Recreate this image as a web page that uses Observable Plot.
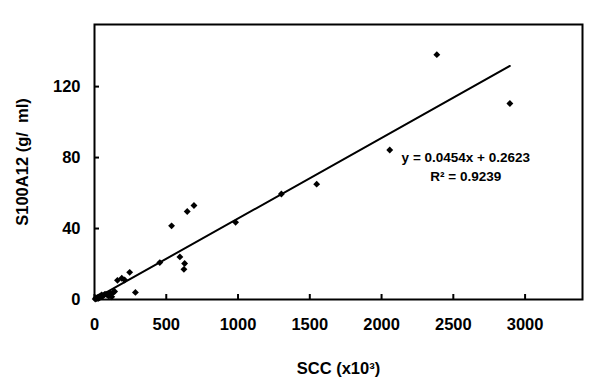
<!DOCTYPE html>
<html>
<head>
<meta charset="utf-8">
<script src="https://cdn.jsdelivr.net/npm/d3@7"></script>
<script src="https://cdn.jsdelivr.net/npm/@observablehq/plot@0.6"></script>
<style>
  html, body { margin: 0; padding: 0; background: #fff; }
  svg { display: block; }
</style>
</head>
<body>
<div id="chart"></div>
<script>
// SCC (x10^3) values
const scc = [5, 10, 15, 20, 25, 30, 35, 40, 45, 50, 55, 60, 70, 80, 90, 100, 110, 120, 130, 140,
             160, 190, 210, 245, 285, 455, 537, 595, 623, 628, 646, 693, 983, 1302, 1548, 2057, 2385, 2894];
// S100A12 values
const s100 = [0.3, 0.8, 0.5, 1.2, 0.6, 1.5, 1.0, 2.0, 1.5, 2.5, 1.8, 2.2, 2.8, 3.0, 2.5, 2.0, 3.5, 1.5, 4.0, 4.5,
              10.8, 12.0, 11.0, 15.3, 4.0, 20.8, 41.5, 24.0, 17.0, 20.3, 49.6, 53.0, 43.5, 59.5, 65.0, 84.3, 138.0, 110.5];
// trendline coefficients
const slope = 0.0454;
const intercept = 0.2623;
const r2 = 0.9239;
// ticks
const xTicks = [0, 500, 1000, 1500, 2000, 2500, 3000];
const yTicks = [0, 40, 80, 120];

const points = scc.map((x, i) => ({x, y: s100[i]}));
const xMin = d3.min(scc), xMax = d3.max(scc);
const trend = [xMin, xMax].map(x => ({x, y: slope * x + intercept}));

const xDomain = [0, 3400], yDomain = [0, 155];
const mL = 94, mR = 18, mT = 24, mB = 92, W = 600, H = 391;
const tickLen = 5;
const xTickLenData = tickLen / (H - mT - mB) * (yDomain[1] - yDomain[0]);
const yTickLenData = tickLen / (W - mL - mR) * (xDomain[1] - xDomain[0]);

const chart = Plot.plot({
  width: W, height: H,
  marginLeft: mL, marginRight: mR, marginTop: mT, marginBottom: mB,
  style: {fontFamily: "Arial, 'Liberation Sans', sans-serif", fontWeight: "bold", fontSize: "16px", color: "#000", background: "#fff"},
  x: {domain: xDomain},
  y: {domain: yDomain},
  marks: [
    Plot.ruleX(xTicks, {x: d => d, y1: 0, y2: xTickLenData, stroke: "#000", strokeWidth: 2}),
    Plot.ruleY(yTicks, {y: d => d, x1: 0, x2: yTickLenData, stroke: "#000", strokeWidth: 2}),
    Plot.axisX({ticks: xTicks, tickFormat: d3.format("d"), tickSize: 0, tickPadding: 19, fontSize: 16.5, fontWeight: "bold",
      label: "SCC (x10³)", labelAnchor: "center", labelOffset: 74, labelArrow: "none"}),
    Plot.axisY({ticks: yTicks, tickFormat: d3.format("d"), tickSize: 0, tickPadding: 14, fontSize: 16.5, fontWeight: "bold",
      label: "S100A12 (g/  ml)", labelAnchor: "center", labelOffset: 78, labelArrow: "none"}),
    Plot.line(trend, {x: "x", y: "y", stroke: "#000", strokeWidth: 2}),
    Plot.dot(points, {x: "x", y: "y", symbol: "diamond2", r: 3.1, fill: "#000", stroke: "none"}),
    Plot.text([`y = ${slope}x + ${intercept}`, `R² = ${r2}`], {
      x: () => 2587, y: (d, i) => 80 - i * 10.7, text: d => d,
      fontSize: 13.5, fontWeight: "bold", fill: "#000"}),
    Plot.frame({stroke: "#000", strokeWidth: 2})
  ]
});
document.getElementById("chart").appendChild(chart);
</script>
</body>
</html>
